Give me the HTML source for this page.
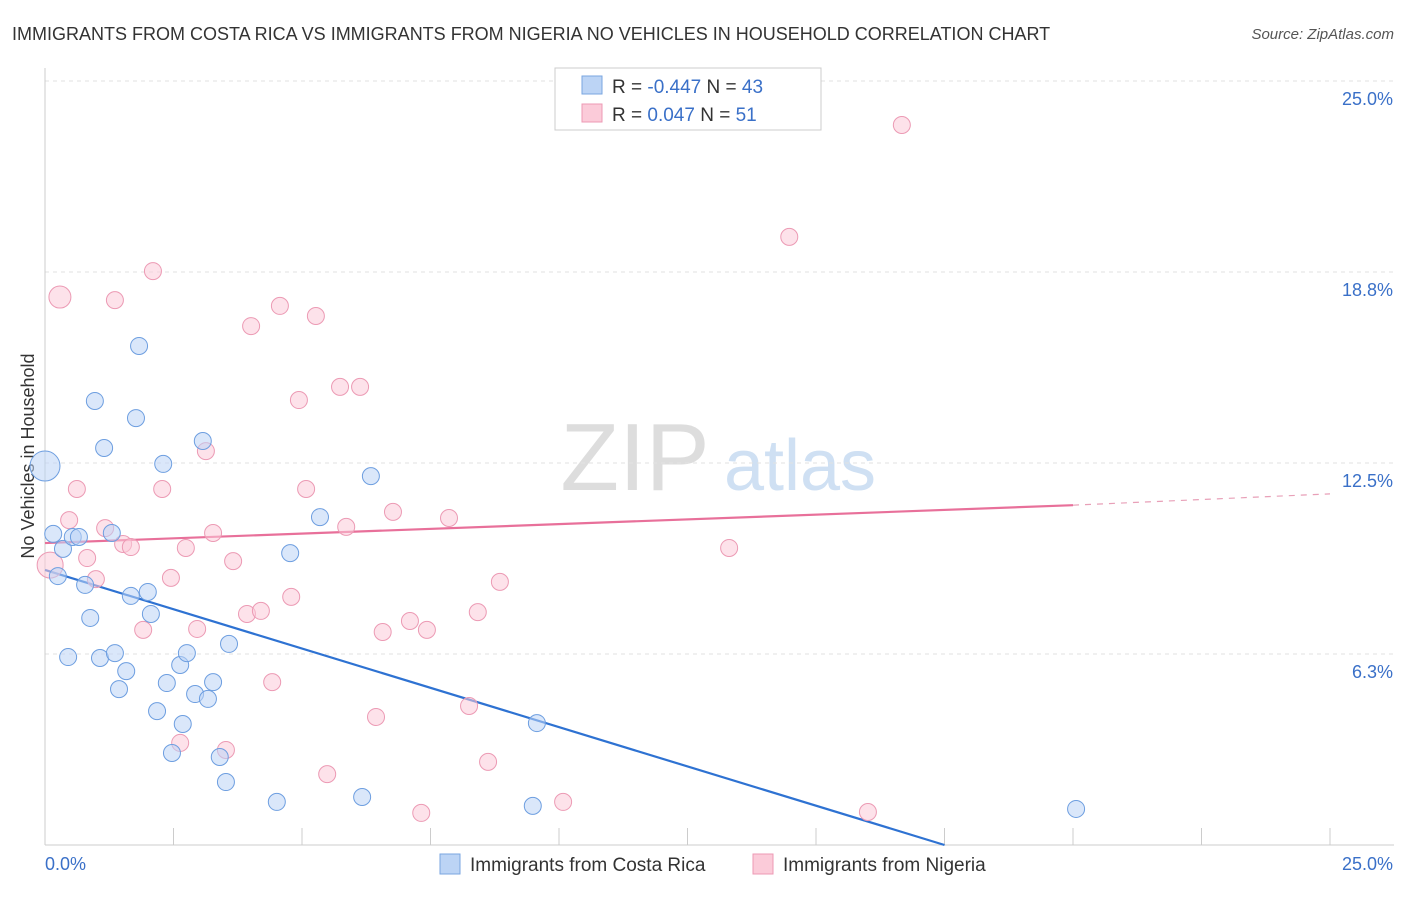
<!DOCTYPE html>
<html><head><meta charset="utf-8"><style>
body{margin:0;background:#fff;font-family:"Liberation Sans",sans-serif;}
svg text{font-family:"Liberation Sans",sans-serif;}
</style></head><body>
<svg id="chart" width="1406" height="892" xmlns="http://www.w3.org/2000/svg">
<text x="12" y="40" font-size="18" fill="#333">IMMIGRANTS FROM COSTA RICA VS IMMIGRANTS FROM NIGERIA NO VEHICLES IN HOUSEHOLD CORRELATION CHART</text>
<text x="1394" y="39" font-size="15" fill="#555" text-anchor="end" font-style="italic">Source: ZipAtlas.com</text>
<text transform="translate(34,456) rotate(-90)" font-size="18" fill="#333" text-anchor="middle">No Vehicles in Household</text>
<g>
<text x="635" y="490" font-size="96" fill="#ddd" text-anchor="middle" font-family="Liberation Serif">ZIP</text>
<text x="800" y="490" font-size="72" fill="#cfe0f3" text-anchor="middle">atlas</text>
</g>
<g id="grid"></g><g id="axes"></g><g id="lines"></g><g id="pts"></g>
<g>
<rect x="555" y="68" width="266" height="62" fill="#fff" stroke="#ccc"/>
<rect x="582" y="76" width="20" height="18" fill="#bcd4f5" stroke="#7aa6e0"/>
<rect x="582" y="104" width="20" height="18" fill="#fbcbd9" stroke="#ec9ab4"/>
<text x="612" y="93" font-size="19" fill="#333">R = <tspan fill="#3a70c8">-0.447</tspan>   N = <tspan fill="#3a70c8">43</tspan></text>
<text x="612" y="121" font-size="19" fill="#333">R =  <tspan fill="#3a70c8"> 0.047</tspan>   N =  <tspan fill="#3a70c8">51</tspan></text>
</g>
<g>
<rect x="440" y="854" width="20" height="20" fill="#bcd4f5" stroke="#7aa6e0"/>
<text x="470" y="871" font-size="19" fill="#333">Immigrants from Costa Rica</text>
<rect x="753" y="854" width="20" height="20" fill="#fbcbd9" stroke="#ec9ab4"/>
<text x="783" y="871" font-size="19" fill="#333">Immigrants from Nigeria</text>
</g>
</svg>
<script>
const yTicks=[6.25,12.5,18.75,25];
const yTickLabels=["6.3%","12.5%","18.8%","25.0%"];
const xTickLabels=["0.0%","25.0%"];
const blueX=[0,0.16,0.35,0.25,0.54,0.66,0.78,0.88,0.45,0.97,1.15,1.30,1.07,1.36,1.44,1.58,1.67,1.83,1.77,2.0,2.06,2.18,2.30,2.37,2.47,2.63,2.68,2.76,2.92,3.07,3.17,3.27,3.40,3.52,3.58,4.51,4.77,5.35,6.17,6.34,9.49,9.57,20.06];
const blueY=[12.4,10.18,9.69,8.8,10.08,10.08,8.51,7.43,6.15,14.53,12.99,10.21,6.12,6.28,5.10,5.69,8.15,16.33,13.97,8.28,7.56,4.38,12.47,5.30,3.01,5.89,3.96,6.28,4.94,13.22,4.78,5.33,2.88,2.06,6.58,1.41,9.55,10.73,1.57,12.07,1.28,3.99,1.18];
const pinkX=[0.29,0.1,0.47,0.62,0.82,0.99,1.17,1.36,1.52,1.67,1.91,2.10,2.28,2.45,2.63,2.74,2.96,3.13,3.27,3.52,3.66,3.93,4.01,4.20,4.42,4.57,4.79,4.94,5.08,5.27,5.74,5.86,6.13,6.44,6.57,6.77,7.10,7.32,7.43,7.86,8.25,8.42,8.62,8.85,10.08,11.38,13.31,14.48,16.01,16.67,5.49];
const pinkY=[17.93,9.16,10.63,11.65,9.39,8.7,10.37,17.83,9.85,9.75,7.04,18.78,11.65,8.74,3.34,9.72,7.07,12.89,10.21,3.11,9.29,7.56,16.98,7.66,5.33,17.64,8.12,14.56,11.65,17.31,14.99,10.41,14.99,4.19,6.97,10.9,7.33,1.05,7.04,10.7,4.55,7.62,2.72,8.61,1.41,25.1,9.72,19.9,1.08,23.56,2.32];
const blueLine=[[0,9.0],[17.5,0]];
const pinkLine=[[0,9.88],[20,11.12]];
const pinkDash=[[20,11.12],[25,11.49]];
const NS="http://www.w3.org/2000/svg";
const X=v=>45+v/25*1285, Y=v=>845-v/6.25*191;
function mk(tag,at,parent){const e=document.createElementNS(NS,tag);for(const k in at)e.setAttribute(k,at[k]);document.getElementById(parent).appendChild(e);return e;}
yTicks.forEach((t,i)=>{
 const g=mk('line',{x1:45,x2:1394,y1:Y(t),y2:Y(t),stroke:'#e2e2e2','stroke-dasharray':'4,4'},'grid');
 
 
 const l=mk('text',{x:1393,y:Y(t)+24,'font-size':18,fill:'#3a70c8','text-anchor':'end'},'grid');
 l.textContent=yTickLabels[i];
 
 
});
const ax=mk('line',{x1:45,x2:1394,y1:845,y2:845,stroke:'#ccc'},'axes');


const ay=mk('line',{x1:45,x2:45,y1:68,y2:845,stroke:'#ccc'},'axes');


for(let i=0;i<=10;i++){const t=mk('line',{x1:X(i*2.5),x2:X(i*2.5),y1:828,y2:845,stroke:'#ccc'},'axes');
 
 }
[[0,45,'start'],[1,1393,'end']].forEach(([i,x,a])=>{const t=mk('text',{x:x,y:870,'font-size':18,fill:'#3a70c8','text-anchor':a},'axes');t.textContent=xTickLabels[i];
 
 });
function line(d,c,dash,name){const e=mk('line',{x1:X(d[0][0]),y1:Y(d[0][1]),x2:X(d[1][0]),y2:Y(d[1][1]),stroke:c,'stroke-width':dash?1.2:2.2,'stroke-dasharray':dash||'none'},'lines');
 
 }
function pts(xs,ys,fill,stroke,name,big){xs.forEach((x,i)=>{const r=big[i]||8.5;const c=mk('circle',{cx:X(x),cy:Y(ys[i]),r:r,fill:fill,'fill-opacity':0.55,stroke:stroke,'stroke-width':1},'pts');
 
 });}
pts(pinkX,pinkY,'#fbcbd9','#ec9ab4','nigeria-point',{0:11,1:13});
pts(blueX,blueY,'#bcd4f5','#6d9ee0','costa-rica-point',{0:15});
line(blueLine,'#2e72d2',null,'costa-rica-trendline');
line(pinkLine,'#e8709a',null,'nigeria-trendline');
line(pinkDash,'#e8a0b8','6,6','nigeria-trendline-extension');
</script>
</body></html>
